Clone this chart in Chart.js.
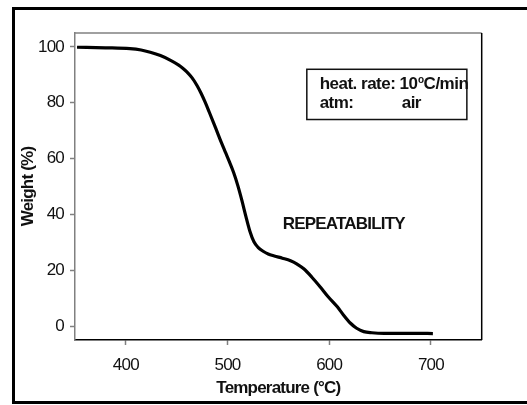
<!DOCTYPE html>
<html>
<head>
<meta charset="utf-8">
<script src="https://cdn.jsdelivr.net/npm/chart.js@4/dist/chart.umd.min.js"></script>
<style>
  body { margin: 0; background: #fff; }
  canvas { display: block; }
</style>
</head>
<body>
<canvas id="tga" width="527" height="405"></canvas>
<script>
// TGA curve, weight (%) vs temperature (°C)
const temperature = [352, 380, 404, 415, 424, 434, 444, 452, 456, 460, 465, 470, 474, 478, 482, 486, 490, 494, 498, 502, 506, 510, 514, 518, 522, 526, 530, 535, 540, 546, 554, 562, 568, 575, 583, 591, 599, 608, 614, 621, 627, 634, 642, 654, 670, 686, 702];
const weight = [99.9, 99.7, 99.4, 98.9, 98.1, 96.9, 95.2, 93.5, 92.4, 91.1, 89, 86.2, 83.4, 80.2, 76.7, 73.1, 69.4, 65.7, 62.2, 58.7, 55, 50.5, 45.2, 39.4, 34, 30.2, 28.2, 26.8, 25.8, 25.1, 24.3, 23.4, 22.3, 20.5, 17.5, 14.1, 10.5, 6.9, 4, 1, -0.8, -2, -2.4, -2.6, -2.6, -2.6, -2.7];
const xTicks = [400, 500, 600, 700];
const yTicks = [0, 20, 40, 60, 80, 100];

const FONT = "'Liberation Sans', Arial, sans-serif";

// frame, box and notes
const extras = {
    id: 'extras',
    beforeLayout(chart) {
        chart.ctx.letterSpacing = '-0.8px';
    },
    beforeDraw(chart) {
        chart.ctx.letterSpacing = '-0.8px';
    },
    afterDraw(chart) {
        const ctx = chart.ctx;
        const {left, right, top, bottom} = chart.chartArea;
        const x = chart.scales.x, y = chart.scales.y;
        ctx.save();

        // top and right edges of the plot box
        ctx.lineWidth = 1.5;
        ctx.strokeStyle = '#808080';
        ctx.beginPath(); ctx.moveTo(left, top); ctx.lineTo(right, top); ctx.stroke();
        ctx.strokeStyle = '#000';
        ctx.beginPath(); ctx.moveTo(right, top); ctx.lineTo(right, bottom); ctx.stroke();

        // outer frame
        ctx.lineWidth = 3;
        ctx.strokeStyle = '#000';
        ctx.strokeRect(13.5, 8.5, 600, 394);

        // conditions box
        const bx1 = x.getPixelForValue(578), bx2 = x.getPixelForValue(735.4);
        const by1 = y.getPixelForValue(92), by2 = y.getPixelForValue(74);
        ctx.lineWidth = 1.5;
        ctx.strokeStyle = '#111';
        ctx.strokeRect(bx1, by1, bx2 - bx1, by2 - by1);

        ctx.fillStyle = '#111';
        ctx.textBaseline = 'alphabetic';
        ctx.textAlign = 'left';
        ctx.letterSpacing = '-0.5px';
        ctx.font = 'bold 17px ' + FONT;
        let tx = x.getPixelForValue(590.6);
        const l1 = y.getPixelForValue(84.8);
        const l2 = y.getPixelForValue(78.2);
        const part1 = 'heat. rate: 10';
        ctx.fillText(part1, tx, l1);
        tx += ctx.measureText(part1).width;
        ctx.font = 'bold 10px ' + FONT;
        ctx.fillText('o', tx + 0.5, l1 - 6);
        tx += ctx.measureText('o').width + 0.5;
        ctx.font = 'bold 17px ' + FONT;
        ctx.fillText('C/min', tx, l1);
        ctx.fillText('atm:', x.getPixelForValue(590.6), l2);
        ctx.fillText('air', x.getPixelForValue(671.3), l2);

        ctx.letterSpacing = '-0.8px';
        ctx.fillText('REPEATABILITY', x.getPixelForValue(554.3), y.getPixelForValue(34.7));
        ctx.restore();
    }
};

const ctx = document.getElementById('tga').getContext('2d');
const tgaChart = new Chart(ctx, {
    type: 'line',
    data: {
        datasets: [{
            label: 'TGA',
            data: temperature.map((t, i) => ({x: t, y: weight[i]})),
            borderColor: '#000',
            borderWidth: 3.2,
            pointRadius: 0,
            fill: false,
            cubicInterpolationMode: 'monotone'
        }]
    },
    options: {
        responsive: false,
        animation: false,
        layout: { padding: { left: 0, top: 33, right: 45.3, bottom: 0 } },
        plugins: {
            legend: { display: false },
            tooltip: { enabled: false }
        },
        scales: {
            x: {
                type: 'linear',
                min: 350,
                max: 750,
                afterBuildTicks: (s) => { s.ticks = xTicks.map(v => ({value: v})); },
                afterFit: (s) => { s.height = 65; },
                border: { color: '#000', width: 1.5 },
                grid: { drawOnChartArea: false, drawTicks: true, tickLength: 5, tickColor: '#808080', tickWidth: 1.5 },
                ticks: { color: '#111', padding: 10, font: { family: FONT, size: 17 } },
                title: {
                    display: true,
                    text: 'Temperature (°C)',
                    color: '#111',
                    font: { family: FONT, size: 17, weight: 'bold', lineHeight: 1.2 },
                    padding: { top: 0, bottom: 6 }
                }
            },
            y: {
                min: -5,
                max: 105,
                afterBuildTicks: (s) => { s.ticks = yTicks.map(v => ({value: v})); },
                afterFit: (s) => { s.width = 75; },
                border: { color: '#808080', width: 1.5 },
                grid: { drawOnChartArea: false, drawTicks: true, tickLength: 5, tickColor: '#808080', tickWidth: 1.5 },
                ticks: { color: '#111', padding: 6, font: { family: FONT, size: 17 } },
                title: {
                    display: true,
                    text: 'Weight (%)',
                    color: '#111',
                    font: { family: FONT, size: 17, weight: 'bold', lineHeight: 1.2 },
                    padding: { top: 18, bottom: 0 }
                }
            }
        }
    },
    plugins: [extras]
});
</script>
</body>
</html>
